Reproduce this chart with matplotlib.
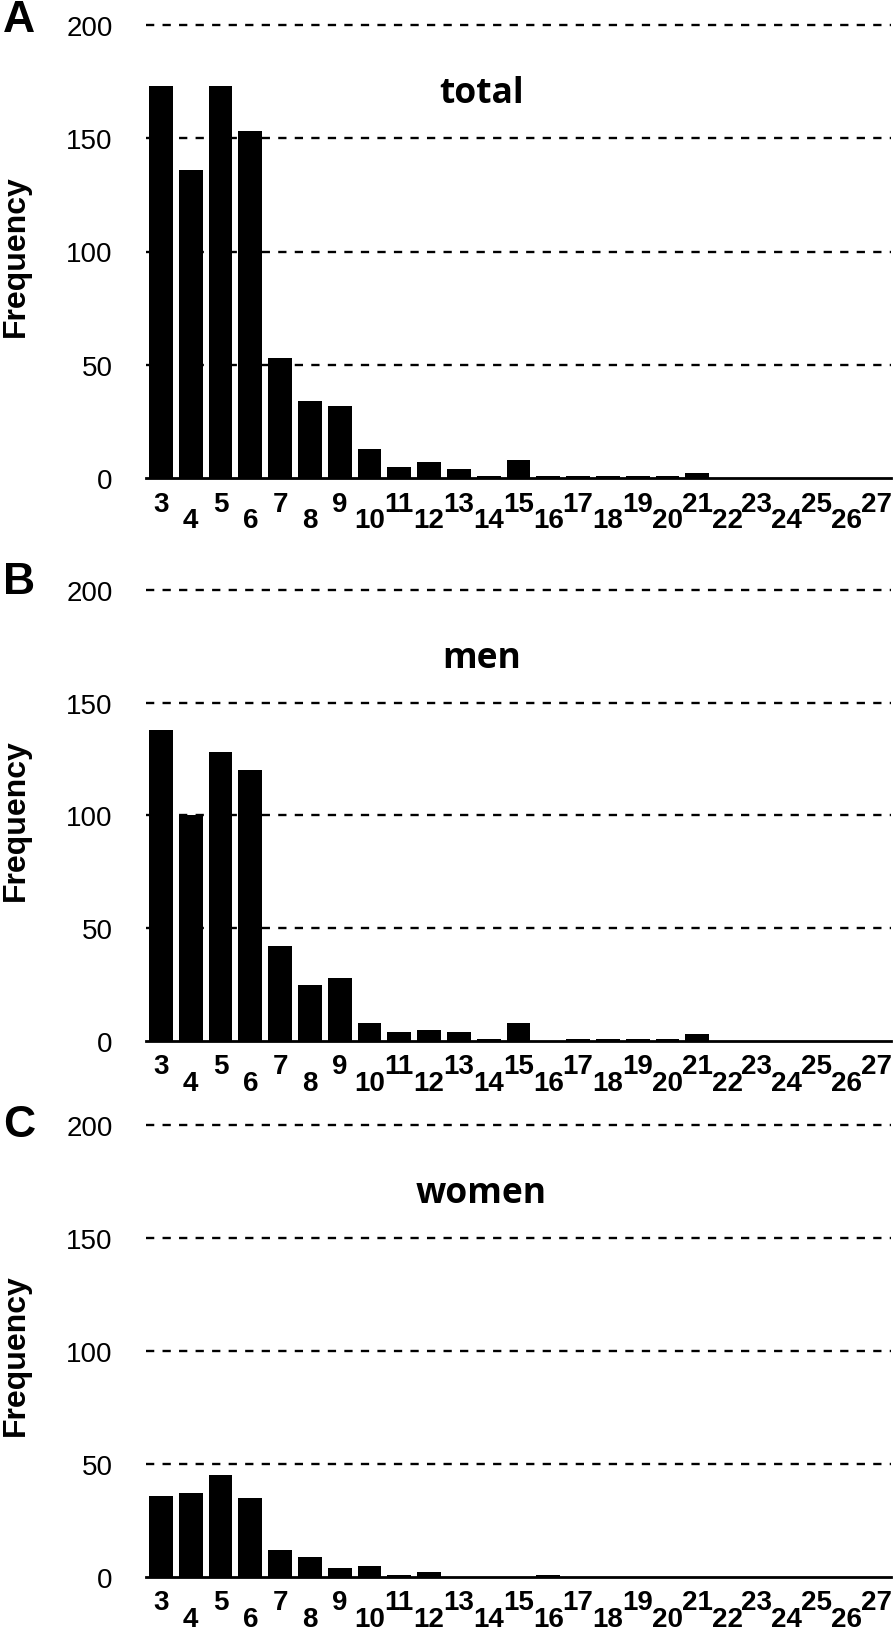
import numpy as np
import matplotlib
matplotlib.use("Agg")
import matplotlib.pyplot as plt

# number of items (x categories)
categories = list(range(3, 28))

# frequencies
total = [173, 136, 173, 153, 53, 34, 32, 13, 5, 7, 4, 1, 8,
         1, 1, 1, 1, 1, 2, 0, 0, 0, 0, 0, 0]
men = [138, 100, 128, 120, 42, 25, 28, 8, 4, 5, 4, 1, 8,
       0, 1, 1, 1, 1, 3, 0, 0, 0, 0, 0, 0]
women = [36, 37, 45, 35, 12, 9, 4, 5, 1, 2, 0, 0, 0,
         1, 0, 0, 0, 0, 0, 0, 0, 0, 0, 0, 0]

panel_titles = ["total", "men", "women"]
panel_letters = ["A", "B", "C"]
yticks = [0, 50, 100, 150, 200]

plt.rcParams['font.family'] = ['Liberation Sans', 'DejaVu Sans']

W, H = 894, 1633
fig = plt.figure(figsize=(W / 100, H / 100), dpi=100)

# axes boxes in pixels: (top, bottom)
boxes = [(26, 479), (591, 1042), (1126, 1578)]
letter_y = [21, 583, 1126]
left, right = 146, 891

for i, series in enumerate([total, men, women]):
    top, bottom = boxes[i]
    ax = fig.add_axes([left / W, 1 - bottom / H, (right - left) / W, (bottom - top) / H])

    # dashed horizontal gridlines behind the bars
    for yv in yticks[1:]:
        ax.axhline(yv, color='black', lw=1.7, ls=(0, (3.5, 3.5)), zorder=0, clip_on=False)

    ax.bar(categories, series, width=0.8, color='black', zorder=2)
    ax.set_xlim(2.5, 27.5)
    ax.set_ylim(0, 200)

    for s in ['top', 'right', 'left']:
        ax.spines[s].set_visible(False)
    ax.spines['bottom'].set_linewidth(2)
    ax.spines['bottom'].set_zorder(3)

    ax.set_yticks(yticks)
    ax.set_yticklabels([str(v) for v in yticks])
    ax.tick_params(axis='y', length=0, pad=24, labelsize=20)

    ax.set_xticks(categories)
    ax.set_xticklabels([str(c) for c in categories])
    ax.tick_params(axis='x', length=0, labelsize=20)
    # staggered labels: even numbers sit lower
    for c, tick in zip(categories, ax.xaxis.get_major_ticks()):
        tick.set_pad(21 if c % 2 == 0 else 9)
        tick.label1.set_fontweight('bold')

    ax.text(0.45, 170, panel_titles[i], transform=ax.get_yaxis_transform(),
            ha='center', va='center', fontsize=25.5, fontweight='bold', family=['Open Sans', 'DejaVu Sans'])

    # y label and panel letter
    fig.text(16 / W, 1 - (top + bottom) / 2 / H - 0.002, "Frequency", rotation=90,
             ha='center', va='center', fontsize=23, fontweight='bold')
    fig.text(19 / W, 1 - letter_y[i] / H, panel_letters[i], ha='center', va='center',
             fontsize=32, fontweight='bold')

fig.savefig("out.png", dpi=100)
